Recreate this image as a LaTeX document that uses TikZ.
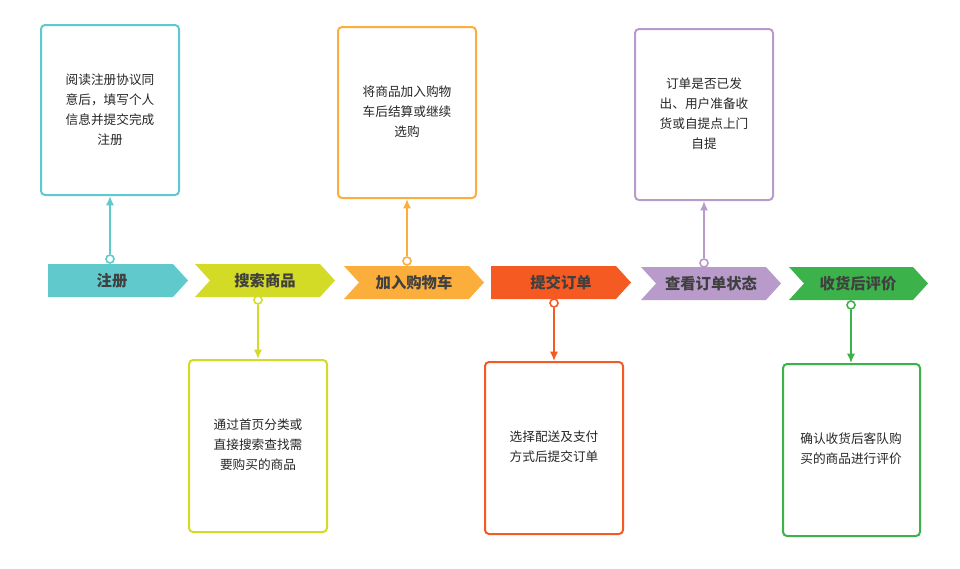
\documentclass[tikz,border=0pt]{standalone}
\usepackage{fontspec}
\setmainfont{Noto Sans CJK SC}
\usetikzlibrary{arrows.meta}
\begin{document}
\begin{tikzpicture}[x=0.75pt,y=-0.75pt,
  chevtxt/.style={font=\fontsize{11.5pt}{13pt}\selectfont\bfseries,text=black!75},
  boxtxt/.style={font=\fontsize{9.5pt}{15pt}\selectfont,text=black!85,align=center},
  card/.style={draw=#1,line width=1.5pt,rounded corners=3pt,fill=white},
  conn/.style={draw=#1,line width=1.2pt,-{Latex[length=7pt,width=6pt]}},
  dotc/.style={circle,draw=#1,fill=white,line width=1.2pt,inner sep=0pt,minimum size=6pt}]
\useasboundingbox (0,0) rectangle (960,568);
\definecolor{cA}{HTML}{5FC9CC}
\definecolor{cB}{HTML}{D4DB26}
\definecolor{cC}{HTML}{FBAE3C}
\definecolor{cD}{HTML}{F55A22}
\definecolor{cE}{HTML}{B99BCB}
\definecolor{cF}{HTML}{3BB24A}
% chevrons
\fill[cA] (48,264) -- (173,264) -- (188,280.5) -- (173,297) -- (48,297) -- cycle;
\node[chevtxt] (c1) at (112,280.5) {注册};
\fill[cB] (195,264) -- (320,264) -- (335,280.5) -- (320,297) -- (195,297) -- (210,280.5) -- cycle;
\node[chevtxt] (c2) at (265,280.5) {搜索商品};
\fill[cC] (344,266) -- (469,266) -- (484,282.5) -- (469,299) -- (344,299) -- (359,282.5) -- cycle;
\node[chevtxt] (c3) at (414,282.5) {加入购物车};
\fill[cD] (491,266) -- (616,266) -- (631,282.5) -- (616,299) -- (491,299) -- cycle;
\node[chevtxt] (c4) at (561,282.5) {提交订单};
\fill[cE] (641,267) -- (766,267) -- (781,283.5) -- (766,300) -- (641,300) -- (656,283.5) -- cycle;
\node[chevtxt] (c5) at (711,283.5) {查看订单状态};
\fill[cF] (789,267) -- (913,267) -- (928,283.5) -- (913,300) -- (789,300) -- (804,283.5) -- cycle;
\node[chevtxt] (c6) at (858,283.5) {收货后评价};
% cards
\draw[card=cA] (41,25) rectangle (179,195);
\node[boxtxt] (t1) at (110,110) {阅读注册协议同\\意后，填写个人\\信息并提交完成\\注册};
\draw[card=cB] (189,360) rectangle (327,532);
\node[boxtxt] (t2) at (258,445) {通过首页分类或\\直接搜索查找需\\要购买的商品};
\draw[card=cC] (338,27) rectangle (476,198);
\node[boxtxt] (t3) at (407,112) {将商品加入购物\\车后结算或继续\\选购};
\draw[card=cD] (485,362) rectangle (623,534);
\node[boxtxt] (t4) at (554,447) {选择配送及支付\\方式后提交订单};
\draw[card=cE] (635,29) rectangle (773,200);
\node[boxtxt] (t5) at (704,114) {订单是否已发\\出、用户准备收\\货或自提点上门\\自提};
\draw[card=cF] (783,364) rectangle (920,536);
\node[boxtxt] (t6) at (851,449) {确认收货后客队购\\买的商品进行评价};
% connectors
\coordinate (b1) at (110,196); \coordinate (b2) at (258,359);
\coordinate (b3) at (407,199); \coordinate (b4) at (554,361);
\coordinate (b5) at (704,201); \coordinate (b6) at (851,363);
\node[dotc=cA] (d1) at (110,259) {};
\node[dotc=cB] (d2) at (258,300) {};
\node[dotc=cC] (d3) at (407,261) {};
\node[dotc=cD] (d4) at (554,303) {};
\node[dotc=cE] (d5) at (704,263) {};
\node[dotc=cF] (d6) at (851,305) {};
\draw[conn=cA] (d1) -- (b1);
\draw[conn=cB] (d2) -- (b2);
\draw[conn=cC] (d3) -- (b3);
\draw[conn=cD] (d4) -- (b4);
\draw[conn=cE] (d5) -- (b5);
\draw[conn=cF] (d6) -- (b6);
\end{tikzpicture}
\end{document}
